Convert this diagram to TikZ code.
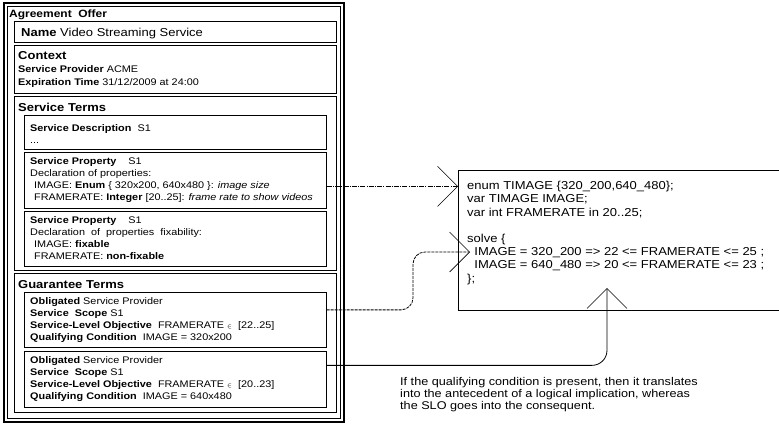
\documentclass[tikz,border=0pt]{standalone}
\usepackage{fontspec}
\setmainfont[FakeStretch=1.13]{Liberation Sans}
\usetikzlibrary{arrows.meta,shadows,calc}
\newcommand\fagr{\fontsize{10.6}{12}\selectfont}
\newcommand\fbig{\fontsize{11.5}{13}\selectfont}
\newcommand\fsm{\fontsize{9.6}{11.5}\selectfont}
\newcommand\fcode{\fontsize{11.5}{13.2}\selectfont}
\newcommand\fcap{\fontsize{11.2}{12}\selectfont}
\begin{document}
\begin{tikzpicture}[x=1pt,y=-1pt,
  frame/.style={draw=black, line width=0.7pt, fill=white, anchor=north west, inner sep=0pt,
    drop shadow={shadow xshift=1pt, shadow yshift=-1pt, fill=black!40, opacity=1}},
  txt/.style={anchor=base west, inner sep=0pt, align=left},
  conn/.style={line width=0.8pt, -{Straight Barb[length=20pt,width=40pt,line width=0.6pt]}},
  dashdot/.style={dash pattern=on 5pt off 1.2pt on 1pt off 1.2pt},
  smalldash/.style={dash pattern=on 3pt off 1pt}]
\useasboundingbox (0,0) rectangle (779,424);
\clip (0,0) rectangle (779,424);
% outer agreement box
\node[draw, line width=1.6pt, anchor=north west, minimum width=340pt, minimum height=419pt, inner sep=0pt] (agr) at (3,2) {};
\draw[line width=0.6pt] ([shift={(4,4)}]agr.north west) rectangle ([shift={(-4,-4)}]agr.south east);
\node[txt, font=\fagr\bfseries] (agrt) at (9,17.5) {Agreement\ \ Offer};
% level 1
\node[frame, minimum width=322pt, minimum height=21pt] (name) at (14,21) {};
\node[frame, minimum width=322pt, minimum height=48pt] (ctx) at (14,45) {};
\node[frame, minimum width=322pt, minimum height=174pt] (st) at (14,96) {};
\node[frame, minimum width=322pt, minimum height=139pt] (gt) at (14,273) {};
% level 2
\node[frame, minimum width=302pt, minimum height=34pt] (sd) at (24,115) {};
\node[frame, minimum width=302pt, minimum height=56pt] (sp1) at (24,152) {};
\node[frame, minimum width=302pt, minimum height=55pt] (sp2) at (24,211) {};
\node[frame, minimum width=302pt, minimum height=55pt] (g1) at (24,292) {};
\node[frame, minimum width=302pt, minimum height=56pt] (g2) at (24,351) {};
% texts
\node[txt, font=\fbig] (namet) at (21,36) {\textbf{Name} Video Streaming Service};
\node[txt, font=\fbig\bfseries] (ctxt) at (18,59.5) {Context};
\node[txt, font=\fsm] (ctx1) at (18,72.5) {\textbf{Service Provider} ACME};
\node[txt, font=\fsm] (ctx2) at (18,85) {\textbf{Expiration Time} 31/12/2009 at 24:00};
\node[txt, font=\fbig\bfseries] (stt) at (18,111) {Service Terms};
\node[txt, font=\fsm] (sd1) at (30,131) {\textbf{Service Description}\ \ S1};
\node[txt, font=\fsm] (sd2) at (30,143) {...};
\node[txt, font=\fsm] (sp11) at (30,164) {\textbf{Service Property}\ \ \ \ S1};
\node[txt, font=\fsm] (sp12) at (30,176) {Declaration of properties:};
\node[txt, font=\fsm] (sp13) at (34,188) {IMAGE: \textbf{Enum} \{ 320x200, 640x480 \}: \textit{image size}};
\node[txt, font=\fsm] (sp14) at (34,200) {FRAMERATE: \textbf{Integer} [20..25]: \textit{frame rate to show videos}};
\node[txt, font=\fsm] (sp21) at (30,223) {\textbf{Service Property}\ \ \ \ S1};
\node[txt, font=\fsm] (sp22) at (30,235) {Declaration\ \ of\ \ properties\ \ fixability:};
\node[txt, font=\fsm] (sp23) at (34,247) {IMAGE: \textbf{fixable}};
\node[txt, font=\fsm] (sp24) at (34,259) {FRAMERATE: \textbf{non-fixable}};
\node[txt, font=\fbig\bfseries] (gtt) at (18,288) {Guarantee Terms};
\node[txt, font=\fsm] (g11) at (30,304) {\textbf{Obligated} Service Provider};
\node[txt, font=\fsm] (g12) at (30,316) {\textbf{Service\ \ Scope} S1};
\node[txt, font=\fsm] (g13) at (30,328) {\textbf{Service-Level Objective}\ \ FRAMERATE {\fontsize{6}{6}\selectfont$\in$}\ \ [22..25]};
\node[txt, font=\fsm] (g14) at (30,340) {\textbf{Qualifying Condition}\ \ IMAGE = 320x200};
\node[txt, font=\fsm] (g21) at (30,363) {\textbf{Obligated} Service Provider};
\node[txt, font=\fsm] (g22) at (30,375) {\textbf{Service\ \ Scope} S1};
\node[txt, font=\fsm] (g23) at (30,387) {\textbf{Service-Level Objective}\ \ FRAMERATE {\fontsize{6}{6}\selectfont$\in$}\ \ [20..23]};
\node[txt, font=\fsm] (g24) at (30,399) {\textbf{Qualifying Condition}\ \ IMAGE = 640x480};
% code box
\node[draw, line width=0.7pt, anchor=north west, minimum width=340pt, minimum height=140pt, inner sep=0pt] (code) at (458,170) {};
% base anchor of a multi-line node = baseline of its last line
\node[txt, font=\fcode] (codet) at (467,282) {enum TIMAGE \{320\_200,640\_480\};\\
var TIMAGE IMAGE;\\
var int FRAMERATE in 20..25;\\
\strut\\
solve \{\\
\ \ IMAGE = 320\_200 => 22 <= FRAMERATE <= 25 ;\\
\ \ IMAGE = 640\_480 => 20 <= FRAMERATE <= 23 ;\\
\};};
% caption
\node[txt, font=\fcap] (cap) at (400,409) {If the qualifying condition is present, then it translates\\
into the antecedent of a logical implication, whereas\\
the SLO goes into the consequent.};
% connectors
\coordinate (c1s) at ([yshift=-6pt]sp1.east);
\draw[conn, dashdot] (c1s) -- (code.west |- c1s);
\coordinate (c2s) at ([yshift=10pt]g1.east);
\coordinate (c2e) at (470,252);
\draw[conn, smalldash, rounded corners=12pt] (c2s) -| ($(c2e)+(-57,0)$) -- (c2e);
\coordinate (c3s) at ([yshift=14pt]g2.east);
\coordinate (c3e) at (607,288);
\draw[conn, rounded corners=15pt] (c3s) -| (c3e);
\end{tikzpicture}
\end{document}
